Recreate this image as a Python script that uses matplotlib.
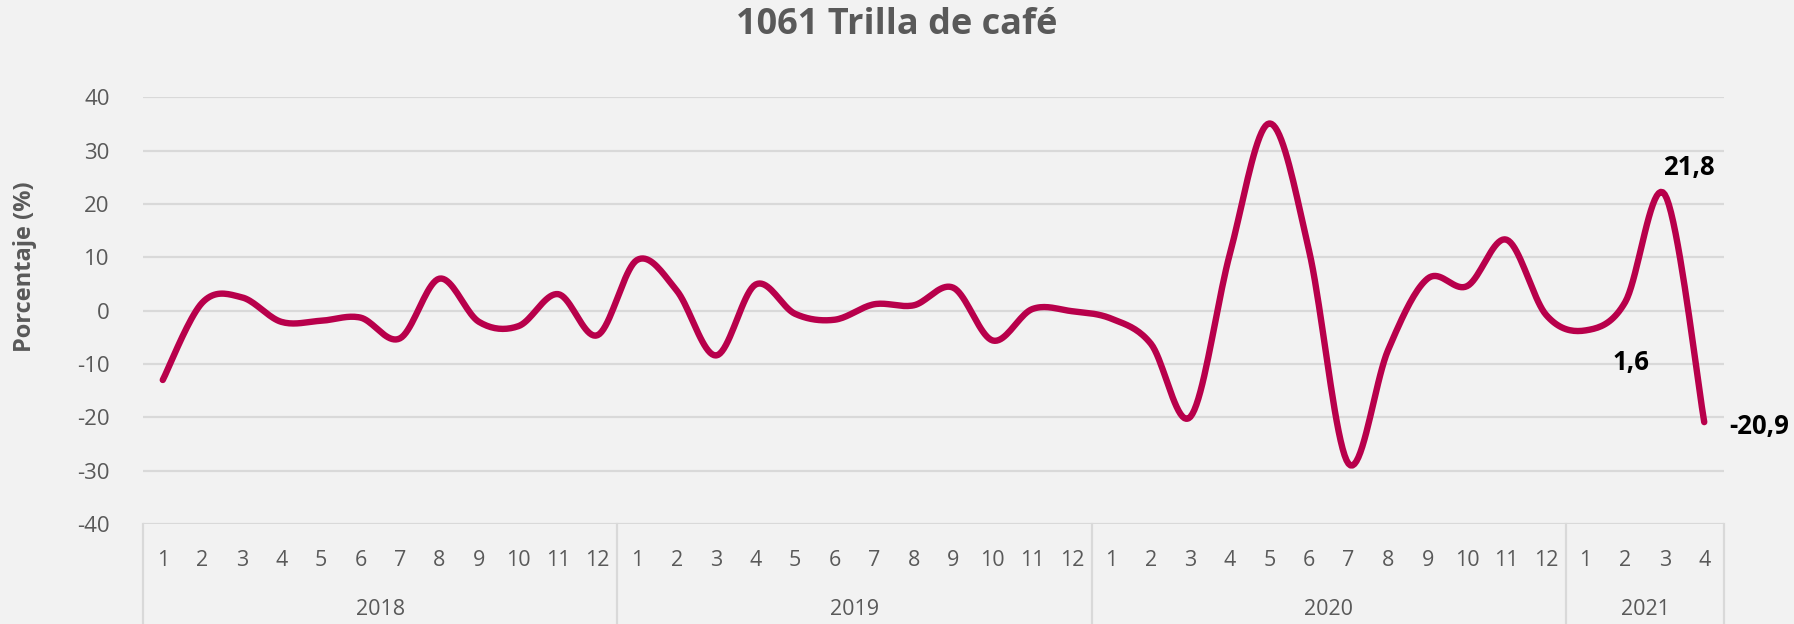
import numpy as np
import matplotlib
matplotlib.use("Agg")
import matplotlib.pyplot as plt
import matplotlib.transforms as mtransforms

# ── data ──────────────────────────────────────────────────────────────────────
years = ["2018", "2019", "2020", "2021"]
months_per_year = [12, 12, 12, 4]
values_2018 = [-13.0, 1.5, 2.5, -2.1, -1.9, -1.3, -5.2, 6.0, -2.1, -2.9, 3.1, -4.6]
values_2019 = [9.5, 3.8, -8.4, 4.9, -0.6, -1.7, 1.2, 1.0, 4.3, -5.6, 0.3, -0.1]
values_2020 = [-1.5, -6.2, -19.9, 10.7, 35.1, 11.3, -28.7, -7.4, 6.0, 4.6, 13.3, -0.8]
values_2021 = [-3.7, 1.6, 21.8, -20.9]
yticks = [-40, -30, -20, -10, 0, 10, 20, 30, 40]

values = np.array(values_2018 + values_2019 + values_2020 + values_2021)
month_labels = [str(m + 1) for n in months_per_year for m in range(n)]

# labelled points: index, text, offset (px), ha
point_labels = [(37, "1,6", (6, -60), "center"),
                (38, "21,8", (24, 27), "center"),
                (39, "-20,9", (25, -4), "left")]

LINE = "#B8004B"
GREY = "#595959"
BG = "#F2F2F2"
GRID = "#D9D9D9"

plt.rcParams["font.family"] = ["Open Sans", "DejaVu Sans"]


def smooth(y, n=20):
    """Catmull-Rom through the points, like Excel's smoothed line."""
    x = np.arange(len(y), dtype=float)
    p = np.column_stack([x, y])
    p = np.vstack([p[0], p, p[-1]])
    out = []
    t = np.linspace(0, 1, n, endpoint=False)[:, None]
    for i in range(1, len(p) - 2):
        p0, p1, p2, p3 = p[i - 1], p[i], p[i + 1], p[i + 2]
        c1 = p1 + (p2 - p0) / 6
        c2 = p2 - (p3 - p1) / 6
        seg = ((1 - t) ** 3 * p1 + 3 * (1 - t) ** 2 * t * c1
               + 3 * (1 - t) * t ** 2 * c2 + t ** 3 * p2)
        out.append(seg)
    out.append(p[-2][None, :])
    out = np.vstack(out)
    return out[:, 0], out[:, 1]


fig = plt.figure(figsize=(17.94, 6.24), dpi=100, facecolor=BG)
ax = fig.add_axes([143 / 1794, 1 - 524 / 624, (1724 - 143) / 1794, (524 - 97.3) / 624])
ax.set_facecolor(BG)

sx, sy = smooth(values)
ax.plot(sx, sy, color=LINE, lw=4.6, solid_capstyle="round", zorder=3)

ax.set_xlim(-0.5, len(values) - 0.5)
ax.set_ylim(-40, 40)
ax.set_yticks(yticks)
ax.set_yticklabels([str(v) for v in yticks], fontsize=16, color=GREY)
ax.tick_params(axis="y", length=0, pad=24)
ax.set_xticks([])
ax.yaxis.grid(True, color=GRID, lw=1.6)
ax.set_axisbelow(True)
for s in ax.spines.values():
    s.set_visible(False)

# multi-level category axis
trans = mtransforms.blended_transform_factory(ax.transData, ax.transAxes)
for i, lab in enumerate(month_labels):
    ax.text(i, -0.086, lab, transform=trans, ha="center", va="center",
            fontsize=15.5, color=GREY)
start = 0
bounds = [-0.5]
for yr, n in zip(years, months_per_year):
    ax.text(start + (n - 1) / 2, -0.2015, yr, transform=trans, ha="center",
            va="center", fontsize=15.5, color=GREY)
    start += n
    bounds.append(start - 0.5)
for b in bounds:
    ax.plot([b, b], [0, -0.24], transform=trans, color=GRID, lw=1.6,
            clip_on=False)

for i, txt, off, ha in point_labels:
    ax.annotate(txt, xy=(i, values[i]), xytext=off, textcoords="offset pixels",
                ha=ha, va="center", fontsize=18.5, fontweight="bold",
                color="black", annotation_clip=False)

fig.text(0.5, 1 - 25.5 / 624, "1061 Trilla de café", ha="center", va="center",
         fontsize=26, fontweight="bold", color=GREY)
fig.text(25 / 1794, 1 - 267 / 624, "Porcentaje (%)", rotation=90, ha="center",
         va="center", fontsize=17, fontweight="bold", color=GREY)

fig.savefig("out.png", dpi=100, facecolor=BG)
